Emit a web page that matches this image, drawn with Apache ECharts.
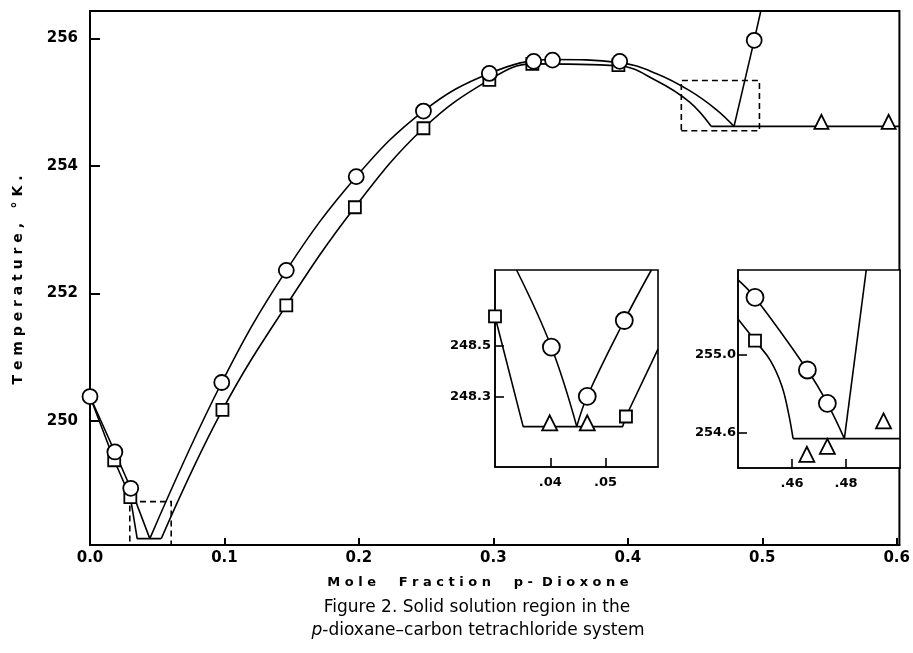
<!DOCTYPE html>
<html><head><meta charset="utf-8">
<script src="https://cdn.jsdelivr.net/npm/echarts@6/dist/echarts.min.js"></script>
<style>html,body{margin:0;padding:0;background:#fff}#c{width:913px;height:653px}</style>
</head><body><div id="c"></div>
<script>
// ---------- main panel ----------
const xTicksMain = [0, 0.1, 0.2, 0.3, 0.4, 0.5, 0.6];
const yTicksMain = [250, 252, 254, 256];
// circles (freezing points)
const freezeX = [0, 0.0185, 0.0303, 0.098, 0.146, 0.198, 0.248, 0.297, 0.33, 0.344, 0.394, 0.494];
const freezeT = [250.38, 249.51, 248.94, 250.6, 252.36, 253.83, 254.86, 255.45, 255.64, 255.66, 255.64, 255.97];
// squares (thaw points)
const thawX = [0.018, 0.030, 0.0985, 0.146, 0.197, 0.248, 0.297, 0.329, 0.393];
const thawT = [249.38, 248.80, 250.17, 251.81, 253.35, 254.59, 255.35, 255.6, 255.58];
// triangles (eutectic halts)
const eutX = [0.544, 0.594];
const eutT = [254.69, 254.69];
// curves, nodes
const fDownX = [0, 0.0185, 0.0303, 0.0445];
const fDownT = [250.38, 249.51, 248.94, 248.15];
const fUpX = [0.0445, 0.098, 0.146, 0.198, 0.248, 0.297, 0.344, 0.394, 0.421, 0.446, 0.466, 0.479];
const fUpT = [248.15, 250.6, 252.36, 253.83, 254.86, 255.45, 255.67, 255.62, 255.45, 255.18, 254.88, 254.62];
const tDownX = [0, 0.018, 0.030, 0.0351, 0.053];
const tDownT = [250.38, 249.38, 248.80, 248.15, 248.15];
const tUpX = [0.053, 0.0985, 0.146, 0.197, 0.248, 0.297, 0.329, 0.393, 0.421, 0.446, 0.462];
const tUpT = [248.15, 250.17, 251.81, 253.35, 254.59, 255.35, 255.6, 255.57, 255.34, 255.0, 254.62];
const eutLineX = [0.462, 0.602];
const eutLineT = [254.62, 254.62];
const steepX = [0.479, 0.494, 0.4989];
const steepT = [254.62, 255.97, 256.43];
const box1 = [[0.0296, 248.05], [0.0604, 248.73]];
const box2 = [[0.4398, 254.55], [0.4979, 255.34]];

// ---------- inset 1 ----------
const in1XRange = [0.030, 0.0595];
const in1YRange = [248.02, 248.80];
const in1XTicks = [0.04, 0.05];
const in1YTicks = [248.3, 248.5];
const in1CircX = [0.0402, 0.0467, 0.0534];
const in1CircT = [248.495, 248.30, 248.60];
const in1SqX = [0.030, 0.0537];
const in1SqT = [248.616, 248.22];
const in1TriX = [0.0399, 0.0467];
const in1TriT = [248.195, 248.195];
const in1FDownX = [0.0339, 0.0402, 0.0448];
const in1FDownT = [248.80, 248.495, 248.18];
const in1FUpX = [0.0448, 0.0467, 0.0534, 0.0583];
const in1FUpT = [248.18, 248.30, 248.60, 248.80];
const in1TLineX = [0.030, 0.0351, 0.0531, 0.0537, 0.0595];
const in1TLineT = [248.616, 248.18, 248.18, 248.22, 248.487];

// ---------- inset 2 ----------
const in2XRange = [0.44, 0.50];
const in2YRange = [254.42, 255.43];
const in2XTicks = [0.46, 0.48];
const in2YTicks = [254.6, 255.0];
const in2CircX = [0.4463, 0.4657, 0.4731];
const in2CircT = [255.29, 254.92, 254.75];
const in2SqX = [0.4463];
const in2SqT = [255.07];
const in2TriX = [0.4655, 0.4731, 0.4939];
const in2TriT = [254.49, 254.53, 254.66];
const in2FX = [0.44, 0.4463, 0.4657, 0.4731, 0.4794];
const in2FT = [255.38, 255.29, 254.92, 254.75, 254.57];
const in2TX = [0.44, 0.4463, 0.4519, 0.4562, 0.4587, 0.4604];
const in2TT = [255.18, 255.07, 254.97, 254.84, 254.70, 254.57];
const in2FloorX = [0.4604, 0.50];
const in2FloorT = [254.57, 254.57];
const in2SteepX = [0.4794, 0.4875];
const in2SteepT = [254.57, 255.43];

const zip = (a, b) => a.map((v, i) => [v, b[i]]);
const FONT = 'DejaVu Sans';

function line(xs, ts, idx, smooth) {
  return { type: 'line', xAxisIndex: idx, yAxisIndex: idx, data: zip(xs, ts), showSymbol: false,
    smooth: smooth ? 0.4 : false,
    lineStyle: { color: '#000', width: 1.6 }, z: 3, silent: true, animation: false };
}
function marks(xs, ts, idx, sym, size) {
  return { type: 'scatter', xAxisIndex: idx, yAxisIndex: idx, data: zip(xs, ts), symbol: sym, symbolSize: size,
    itemStyle: { color: '#fff', borderColor: '#000', borderWidth: 1.8, opacity: 1 }, z: 5, silent: true, animation: false };
}
function ax(idx, min, max, ticks, fmt, size, margin, tickLen, lw) {
  return { type: 'value', gridIndex: idx, min, max,
    axisLine: { show: true, lineStyle: { color: '#000', width: lw } },
    axisTick: { show: true, inside: true, length: tickLen, customValues: ticks, lineStyle: { color: '#000', width: lw } },
    axisLabel: { customValues: ticks, formatter: fmt, color: '#000', fontFamily: FONT, fontWeight: 'bold', fontSize: size, margin },
    splitLine: { show: false } };
}
const chart = echarts.init(document.getElementById('c'), null, { renderer: 'canvas' });
const option = {
  animation: false,
  backgroundColor: '#fff',
  grid: [
    { left: 90, top: 11, width: 814, height: 534, show: true, borderColor: '#000', borderWidth: 2, backgroundColor: 'transparent' },
    { left: 495, top: 270, width: 163, height: 197, show: true, borderColor: '#000', borderWidth: 1.6, backgroundColor: '#fff' },
    { left: 738, top: 270, width: 162, height: 198, show: true, borderColor: '#000', borderWidth: 1.6, backgroundColor: '#fff' }
  ],
  xAxis: [
    ax(0, 0, 0.602, xTicksMain, v => v.toFixed(1), 15, 6, 7, 2),
    ax(1, in1XRange[0], in1XRange[1], in1XTicks, v => v.toFixed(2).replace(/^0/, ''), 13, 9, 9, 1.6),
    ax(2, in2XRange[0], in2XRange[1], in2XTicks, v => v.toFixed(2).replace(/^0/, ''), 13, 9, 9, 1.6)
  ],
  yAxis: [
    ax(0, 248.05, 256.43, yTicksMain, v => v.toFixed(0), 15, 12, 10, 2),
    ax(1, in1YRange[0], in1YRange[1], in1YTicks, v => v.toFixed(1), 13, 4, 9, 1.6),
    ax(2, in2YRange[0], in2YRange[1], in2YTicks, v => v.toFixed(1), 13, 2, 9, 1.6)
  ],
  series: [
    Object.assign(line(fDownX, fDownT, 0, false), {
      markArea: { silent: true, itemStyle: { color: 'rgba(0,0,0,0)', borderColor: '#000', borderWidth: 1.6, borderType: [6, 4] },
        data: [[{ coord: box1[0] }, { coord: box1[1] }], [{ coord: box2[0] }, { coord: box2[1] }]] } }),
    line(fUpX, fUpT, 0, true),
    line(tDownX, tDownT, 0, false),
    line(tUpX, tUpT, 0, true),
    line(eutLineX, eutLineT, 0, false),
    line(steepX, steepT, 0, false),
    marks(thawX, thawT, 0, 'rect', 12),
    marks(freezeX, freezeT, 0, 'circle', 15),
    marks(eutX, eutT, 0, 'triangle', 14),

    line(in1FDownX, in1FDownT, 1, true),
    line(in1FUpX, in1FUpT, 1, true),
    line(in1TLineX, in1TLineT, 1, false),
    marks(in1SqX, in1SqT, 1, 'rect', 12),
    marks(in1CircX, in1CircT, 1, 'circle', 17),
    marks(in1TriX, in1TriT, 1, 'triangle', 15),

    line(in2FX, in2FT, 2, true),
    line(in2TX, in2TT, 2, true),
    line(in2FloorX, in2FloorT, 2, false),
    line(in2SteepX, in2SteepT, 2, false),
    marks(in2SqX, in2SqT, 2, 'rect', 12),
    marks(in2CircX, in2CircT, 2, 'circle', 17),
    marks(in2TriX, in2TriT, 2, 'triangle', 15)
  ],
  graphic: [
    { type: 'text', x: 18, y: 280, rotation: Math.PI / 2, silent: true,
      style: { text: 'T e m p e r a t u r e ,   ° K .', font: 'bold 14px "' + FONT + '"', fill: '#000', align: 'center', verticalAlign: 'middle' } },
    { type: 'text', x: 478, y: 583, silent: true,
      style: { text: 'M o l e     F r a c t i o n     p -  D i o x o n e', font: 'bold 13px "' + FONT + '"', fill: '#000', align: 'center', verticalAlign: 'middle' } },
    { type: 'text', x: 477, y: 608, silent: true,
      style: { text: 'Figure 2. Solid solution region in the', font: '17px "' + FONT + '"', fill: '#000', align: 'center', verticalAlign: 'middle' } },
    { type: 'text', x: 478, y: 631, silent: true,
      style: { text: '{i|p}-dioxane–carbon tetrachloride system', font: '17px "' + FONT + '"', fill: '#000', align: 'center', verticalAlign: 'middle',
        rich: { i: { fontStyle: 'italic', fontFamily: FONT, fontSize: 17 } } } }
  ]
};
chart.setOption(option);
</script></body></html>
